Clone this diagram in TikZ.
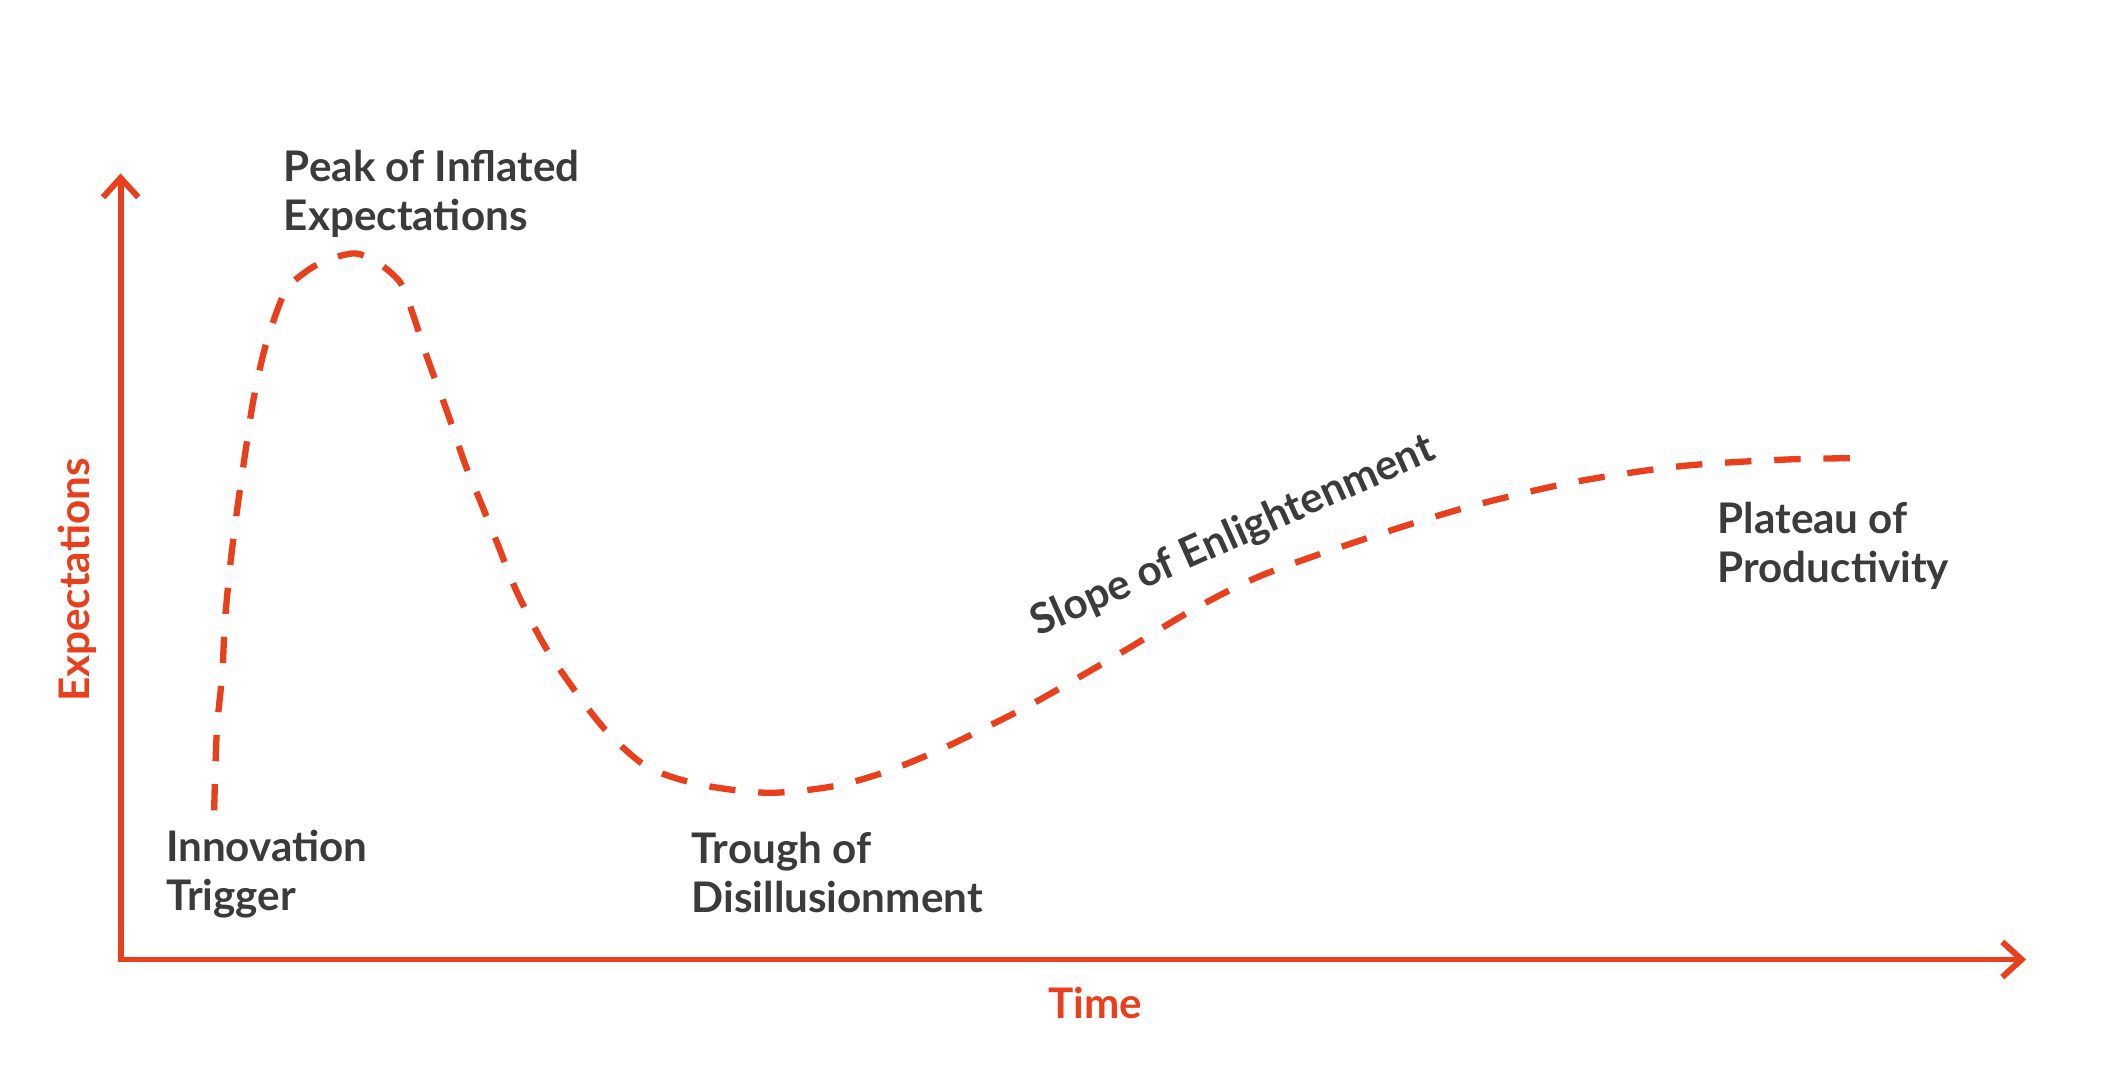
\documentclass[tikz,border=0pt]{standalone}
\usepackage{fontspec}
\setmainfont{Lato}
\usetikzlibrary{arrows.meta}
\definecolor{hypeorange}{HTML}{E8401C}
\definecolor{hypegray}{HTML}{3B3B3B}
\begin{document}
\begin{tikzpicture}[x=0.013552cm, y=-0.013552cm,
  axisline/.style={hypeorange, line width=1.7pt, line join=miter,
    arrows={Straight Barb[length=5.5pt, width=10pt, line width=1.7pt]-Straight Barb[length=5.5pt, width=10pt, line width=1.7pt]}},
  phase/.style={hypegray, font=\bfseries\fontsize{12}{14}\selectfont, align=left, anchor=west, inner sep=0pt},
  axislabel/.style={hypeorange, font=\bfseries\fontsize{12}{14}\selectfont, inner sep=0pt}]
  \useasboundingbox (0,0) rectangle (1568,788);

  % Axes
  \coordinate (ytop) at (89,128);
  \coordinate (origin) at (89,708);
  \coordinate (xend) at (1495,708);
  \draw[axisline] (ytop) -- (origin) -- (xend);
  \node[axislabel, rotate=90] (ylab) at (57,428) {Expectations};
  \node[axislabel] (xlab) at (808,740) {Time};

  % Hype curve
  \draw[hypeorange, line width=1.8pt, dash pattern=on 7.5pt off 6.5pt]
    plot[smooth, tension=0.5] coordinates {(158,598) (160,539) (164,497)
      (166,458) (170,416) (175,376) (181,334) (187,295) (196,255) (210,216)
      (225,201) (241,192) (262,187) (279,194) (295,208) (303,227) (316,266)
      (330,304) (343,342) (352,364) (367,401) (381,436) (401,475) (423,508)
      (448,540) (478,566) (517,579) (567,585) (616,580) (655,569) (694,553)
      (729,536) (766,517) (830,480) (880,450) (930,425) (1000,400)
      (1080,375) (1160,356) (1240,344) (1320,339) (1380,338)};

  % Phases
  \node[phase] (peak) at (209,143) {Peak of Inflated\\Expectations};
  \node[phase] (trigger) at (122,645) {Innovation\\Trigger};
  \node[phase] (trough) at (510,644) {Trough of\\Disillusionment};
  \node[phase] (plateau) at (1267,403) {Plateau of\\Productivity};
  \node[phase, anchor=center, rotate=24] (slope) at (910,396) {Slope of Enlightenment};
\end{tikzpicture}
\end{document}
